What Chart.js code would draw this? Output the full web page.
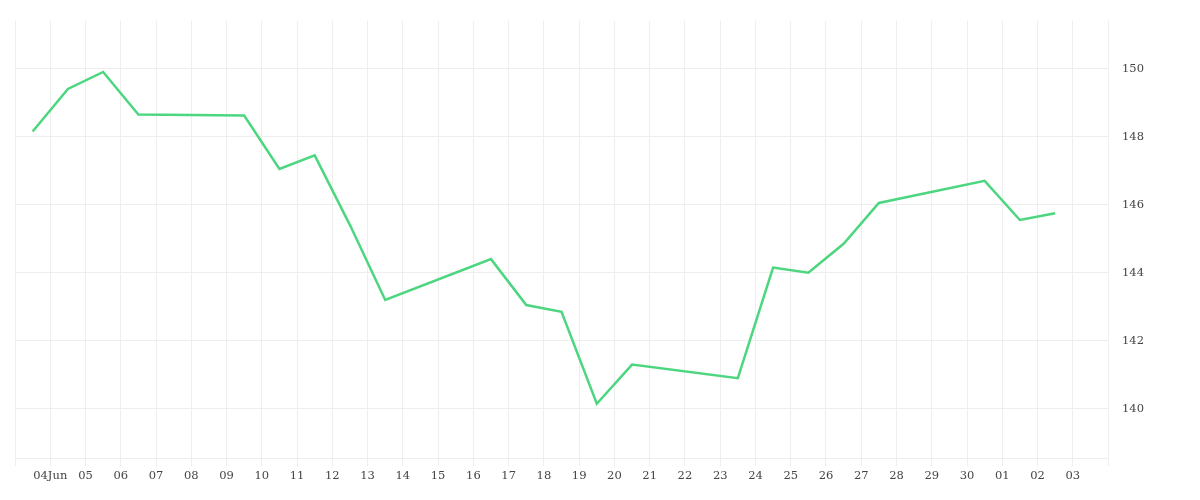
<!DOCTYPE html>
<html>
<head>
<meta charset="utf-8">
<script src="https://cdn.jsdelivr.net/npm/chart.js@4"></script>
<style>
  html, body { margin: 0; padding: 0; background: #fff; }
  #wrap { width: 1200px; height: 500px; }
</style>
</head>
<body>
<div id="wrap"><canvas id="myChart"></canvas></div>
<script>
// day index 0 = 04 Jun; points fall at half-day offsets
const tickLabels = ['04Jun','05','06','07','08','09','10','11','12','13','14','15','16','17','18','19','20','21','22','23','24','25','26','27','28','29','30','01','02','03'];
const dayIndex = [-0.5, 0.5, 1.5, 2.5, 5.5, 6.5, 7.5, 8.5, 9.5, 12.5, 13.5, 14.5, 15.5, 16.5, 19.5, 20.5, 21.5, 22.5, 23.5, 26.5, 27.5, 28.5];
const prices = [148.15, 149.4, 149.9, 148.65, 148.62, 147.05, 147.45, 145.4, 143.2, 144.4, 143.05, 142.85, 140.15, 141.3, 140.9, 144.15, 144.0, 144.85, 146.05, 146.7, 145.55, 145.75];

const points = [];
for (let i = 0; i < dayIndex.length; i++) {
    points.push({x: dayIndex[i], y: prices[i]});
}

const gridColor = '#eeeeee';
const tickFont = {family: 'DejaVu Serif', size: 11.5};

const config = {
    type: 'line',
    data: {
        datasets: [{
            data: points,
            borderColor: '#4cd67f',
            borderWidth: 2.5,
            pointRadius: 0,
            tension: 0,
            fill: false
        }]
    },
    options: {
        responsive: true,
        maintainAspectRatio: false,
        animation: false,
        layout: {padding: {left: 15, top: 0, right: 42, bottom: 14}},
        plugins: {legend: {display: false}, tooltip: {enabled: false}},
        scales: {
            x: {
                type: 'linear',
                min: -1,
                max: 30,
                grid: {color: gridColor, tickLength: 8},
                border: {color: gridColor},
                ticks: {
                    stepSize: 1,
                    autoSkip: false,
                    maxRotation: 0,
                    color: '#444',
                    font: tickFont,
                    callback: v => (v >= 0 && v < tickLabels.length) ? tickLabels[v] : ''
                }
            },
            y: {
                position: 'right',
                min: 138.55,
                max: 151.4,
                grid: {color: gridColor, tickLength: 0},
                border: {display: false},
                afterBuildTicks: axis => {
                    axis.ticks = [140, 142, 144, 146, 148, 150].map(v => ({value: v}));
                },
                ticks: {color: '#444', font: tickFont, padding: 14}
            }
        }
    }
};

new Chart(document.getElementById('myChart'), config);
</script>
</body>
</html>
